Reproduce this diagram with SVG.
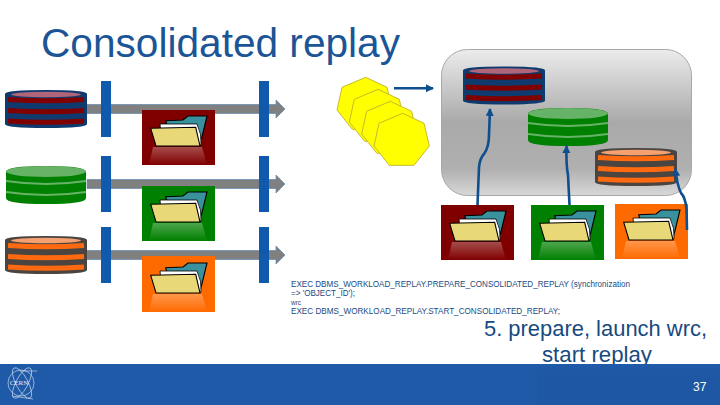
<svg xmlns="http://www.w3.org/2000/svg" width="720" height="405" viewBox="0 0 720 405">
<style>
text{font-family:"Liberation Sans",Arial,sans-serif}
.title{font-size:40px;fill:#1c5596}
.code{font-size:8.3px;fill:#1a4a80}
.cap{font-size:22px;fill:#174a80}
.bar{fill:#0f5aad}
.shaft{fill:#808080;stroke:#6a8fb5;stroke-width:.8}
.flow{fill:none;stroke:#0f4f8f;stroke-width:2.6;stroke-linejoin:round}
.hept{fill:#ffff00;stroke:#c9b92c;stroke-width:1}
.logo{fill:none;stroke:#c3d3e8;stroke-width:.7}
.red{--b:#0f3a6e;--s:#800000;--t:#b0667a}
.orange{--b:#4a4540;--s:#ff6a10;--t:#f4a070}
</style>
<defs>
<symbol id="db" viewBox="0 0 82 38" width="82" height="38" overflow="visible">
<path d="M0 4Q0 0 41 0T82 4V34Q82 38 41 38T0 34Z" fill="var(--b)"/>
<ellipse cx="41" cy="4.500" rx="35" ry="2.800" fill="var(--t)"/>
<g fill="none" stroke="var(--s)" stroke-width="5">
<path d="M3 9.500Q41 12 79 9.500"/><path d="M3 20.500Q41 23 79 20.500"/><path d="M3 31Q41 33.500 79 31"/>
</g>
</symbol>
<symbol id="dbg" viewBox="0 0 82 38" width="82" height="38" overflow="visible">
<path d="M1 6Q1 0 41 0T81 6V32Q81 38 41 38T1 32Z" fill="#008000"/>
<ellipse cx="41" cy="5.500" rx="40" ry="5.500" fill="#66b266"/>
<g fill="none" stroke="#66b266" stroke-width="2">
<path d="M1 15Q41 21 81 15"/><path d="M1 26Q41 32 81 26"/>
</g>
</symbol>
<linearGradient id="refl" x1="0" y1="0" x2="0" y2="1">
<stop offset="0" stop-color="#fff" stop-opacity=".3"/><stop offset="1" stop-color="#fff" stop-opacity="0"/>
</linearGradient>
<symbol id="folder" viewBox="0 0 73 55" width="73" height="55" overflow="visible">
<path d="M11 37H60L65 55H7Z" fill="url(#refl)"/>
<path d="M23.700 10.700L41 10L46 6H65L58 35H30Z" fill="#3a919e" stroke="#000" stroke-width="1.100"/>
<path d="M18 14H55Q60 24 59 35H20Z" fill="#fff" stroke="#000" stroke-width=".8"/>
<path d="M8.700 18.300L53.700 17.300L58 36H14Z" fill="#e8d878" stroke="#000" stroke-width="1.100"/>
</symbol>
<linearGradient id="panel" x1="0" y1="0" x2="0" y2="1">
<stop offset="0" stop-color="#ececec"/><stop offset=".5" stop-color="#a9a9a9"/><stop offset=".82" stop-color="#b0b0b0"/><stop offset="1" stop-color="#d8d8d8"/>
</linearGradient>
<marker id="ah" markerUnits="userSpaceOnUse" markerWidth="9" markerHeight="9" refX="7" refY="4" orient="auto"><path d="M0 0L8 4L0 8Z" fill="#0f4f8f"/></marker>
</defs>

<rect id="footer" y="364" width="720" height="41" fill="#1f5aa8"/>
<rect x="537" y="365" width="183" height="40" fill="#1e58a5"/>

<text class="title" x="41" y="57" textLength="359" lengthAdjust="spacingAndGlyphs">Consolidated replay</text>

<g id="connectors">
<path class="shaft" d="M87 104.500H276V100L285 109L276 118V113.500H87Z"/>
<path class="shaft" d="M87 179.500H276V175L285 184L276 193V188.500H87Z"/>
<path class="shaft" d="M87 250.500H276V246L285 255L276 264V259.500H87Z"/>
<g id="flows">
<path class="flow" d="M394 88.300H433" marker-end="url(#ah)"/>
</g>
</g>

<g id="bars">
<rect class="bar" x="101" y="81" width="10" height="56"/>
<rect class="bar" x="259" y="81" width="10" height="56"/>
<rect class="bar" x="101" y="156" width="10" height="56"/>
<rect class="bar" x="259" y="156" width="10" height="56"/>
<rect class="bar" x="101" y="227" width="10" height="56"/>
<rect class="bar" x="259" y="227" width="10" height="56"/>
</g>

<g id="db-red-left"><use href="#db" class="red" x="5" y="90"/></g>
<g id="db-green-left"><use href="#dbg" x="5" y="166"/></g>
<g id="db-orange-left"><use href="#db" class="orange" x="5" y="236"/></g>

<g id="folder-red-left"><rect x="142" y="110" width="73" height="55" fill="#800000"/><use href="#folder" x="142" y="110"/></g>
<g id="folder-green-left"><rect x="142" y="186" width="73" height="55" fill="#008000"/><use href="#folder" x="142" y="186"/></g>
<g id="folder-orange-left"><rect x="142" y="256" width="73" height="56" fill="#ff6a00"/><use href="#folder" x="142" y="257"/></g>

<g id="captures">
<polygon class="hept" points="365.700,77.300 387,87.300 392.300,110 377,129.300 352.300,129.300 337,110 342,87.300"/>
<polygon class="hept" points="378,89.300 399.300,99.300 404.600,122 389.300,141.300 364.600,141.300 349.300,122 354.300,99.300"/>
<polygon class="hept" points="390.300,101.300 411.600,111.300 416.900,134 401.600,153.300 376.900,153.300 361.600,134 366.600,111.300"/>
<polygon class="hept" points="402.700,113.300 424,123.300 429.300,146 414,165.300 389.300,165.300 374,146 379,123.300"/>
</g>

<g id="replay-panel"><rect x="441.500" y="49.500" width="250" height="146" rx="26" fill="url(#panel)" stroke="#a8a8a8"/></g>

<g id="db-red-right"><use href="#db" class="red" x="463" y="66.500"/></g>
<g id="db-green-right"><use href="#dbg" x="527" y="108"/></g>
<g id="db-orange-right"><use href="#db" class="orange" x="595" y="148"/></g>

<g id="folder-red-right"><rect x="441" y="205" width="73" height="55" fill="#800000"/><use href="#folder" x="441" y="205"/></g>
<g id="folder-green-right"><rect x="531" y="205" width="73" height="55" fill="#008000"/><use href="#folder" x="531" y="205"/></g>
<g id="folder-orange-right"><rect x="615" y="204" width="73" height="55" fill="#ff6a00"/><use href="#folder" x="615" y="204"/></g>

<g id="replay-flows">
<path class="flow" d="M477.500 205L479 167Q480 158 484 154Q489 147 489 135L490 109" marker-end="url(#ah)"/>
<path class="flow" d="M569.500 205L568 175Q566 165 566.500 146" marker-end="url(#ah)"/>
<path class="flow" d="M687 230L686.500 208Q685 197 681 193Q677 185 675.500 169" marker-end="url(#ah)"/>
</g>

<g id="code">
<text class="code" x="291" y="286.500" textLength="339" lengthAdjust="spacingAndGlyphs">EXEC DBMS_WORKLOAD_REPLAY.PREPARE_CONSOLIDATED_REPLAY (synchronization</text>
<text class="code" x="291" y="295.500" textLength="64" lengthAdjust="spacingAndGlyphs">=&gt; 'OBJECT_ID');</text>
<text class="code" x="291" y="304.500" style="font-size:6.500px">wrc</text>
<text class="code" x="291" y="314" textLength="269" lengthAdjust="spacingAndGlyphs">EXEC DBMS_WORKLOAD_REPLAY.START_CONSOLIDATED_REPLAY;</text>
</g>

<text class="cap" x="484" y="336" textLength="223" lengthAdjust="spacingAndGlyphs">5. prepare, launch wrc,</text>
<text class="cap" x="542" y="362" textLength="110" lengthAdjust="spacingAndGlyphs">start replay</text>
<rect y="364" width="720" height="5" fill="#1f5aa8"/>

<g id="logo">
<circle class="logo" cx="21" cy="383" r="13"/>
<ellipse class="logo" cx="22" cy="383" rx="17" ry="6" transform="rotate(62 22 383)"/>
<ellipse class="logo" cx="22" cy="383" rx="17" ry="6" transform="rotate(-62 22 383)"/>
<path class="logo" d="M20 371H37M12 396L33 399"/>
<text x="19" y="385" text-anchor="middle" style="font-family:'Liberation Serif',serif;font-size:7px;fill:#e4ecf5">CERN</text>
</g>

<text id="page-number" x="693" y="391" style="font-size:12px;fill:#fff">37</text>
</svg>
